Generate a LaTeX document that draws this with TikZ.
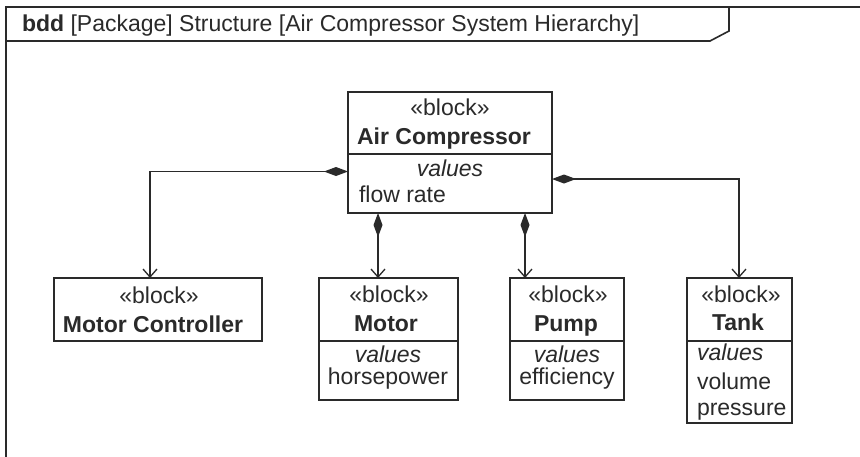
\documentclass[tikz,border=0pt]{standalone}
\usepackage{fontspec}
\setmainfont{Liberation Sans}
\usetikzlibrary{arrows.meta}
\definecolor{ink}{HTML}{2A2A2A}
\begin{document}
\begin{tikzpicture}[x=1pt,y=-1pt,
  every node/.style={inner sep=0pt,outer sep=0pt,text=ink,font=\fontsize{23}{27}\selectfont},
  blockbox/.style={draw=ink,line width=1.3pt,rectangle},
  txt/.style={anchor=base},
  ltxt/.style={anchor=base west},
  comp/.style={draw=ink,line width=1.3pt,{Diamond[length=24pt,width=9pt]}-{Straight Barb[length=8pt,width=14pt]}},
  framel/.style={draw=ink,line width=1.6pt}]
\useasboundingbox (0,0) rectangle (860,456);
\fill[white] (0,0) rectangle (860,456);
% frame
\draw[framel] (6,470) -- (6,7) -- (870,7);
\draw[framel] (6,41) -- (710,41) -- (729,31) -- (729,7);
\node[ltxt] (title) at (22,31) {\textbf{bdd} [Package] Structure [Air Compressor System Hierarchy]};
% blocks
\node[blockbox,minimum width=204pt,minimum height=121pt] (ac) at (450,152.5) {};
\draw[draw=ink,line width=1.3pt] (ac.west |- 0,154) -- (ac.east |- 0,154);
\node[txt] (ac1) at (450,115) {«block»};
\node[txt] (ac2) at (444,144) {\textbf{Air Compressor}};
\node[txt] (ac3) at (450,176) {\textit{values}};
\node[ltxt] (ac4) at (359,202) {flow rate};

\node[blockbox,minimum width=208pt,minimum height=63pt] (mc) at (158,309.5) {};
\node[txt] (mc1) at (159,303) {«block»};
\node[txt] (mc2) at (153,332) {\textbf{Motor Controller}};

\node[blockbox,minimum width=139pt,minimum height=122pt] (mo) at (388.5,339) {};
\draw[draw=ink,line width=1.3pt] (mo.west |- 0,341) -- (mo.east |- 0,341);
\node[txt] (mo1) at (389,302) {«block»};
\node[txt] (mo2) at (386,331) {\textbf{Motor}};
\node[txt] (mo3) at (388,362) {\textit{values}};
\node[txt] (mo4) at (388,384) {horsepower};

\node[blockbox,minimum width=114pt,minimum height=122pt] (pu) at (567,339) {};
\draw[draw=ink,line width=1.3pt] (pu.west |- 0,341) -- (pu.east |- 0,341);
\node[txt] (pu1) at (568,302) {«block»};
\node[txt] (pu2) at (566,331) {\textbf{Pump}};
\node[txt] (pu3) at (567,362) {\textit{values}};
\node[txt] (pu4) at (567,384) {efficiency};

\node[blockbox,minimum width=105pt,minimum height=145pt] (ta) at (739.5,350.5) {};
\draw[draw=ink,line width=1.3pt] (ta.west |- 0,341) -- (ta.east |- 0,341);
\node[txt] (ta1) at (741,302) {«block»};
\node[txt] (ta2) at (738,330) {\textbf{Tank}};
\node[ltxt] (ta3) at (697,360) {\textit{values}};
\node[ltxt] (ta4) at (697,389) {volume};
\node[ltxt] (ta5) at (697,415) {pressure};

% connectors
\coordinate (xmc) at (150,0);
\coordinate (xmo) at (378,0);
\coordinate (xpu) at (525,0);
\coordinate (xta) at (739,0);
\draw[comp] (ac.west |- 0,171.5) -| (xmc |- mc.north);
\draw[comp] (xmo |- ac.south) -- (xmo |- mo.north);
\draw[comp] (xpu |- ac.south) -- (xpu |- pu.north);
\draw[comp] (ac.east |- 0,179) -| (xta |- ta.north);
\end{tikzpicture}
\end{document}
